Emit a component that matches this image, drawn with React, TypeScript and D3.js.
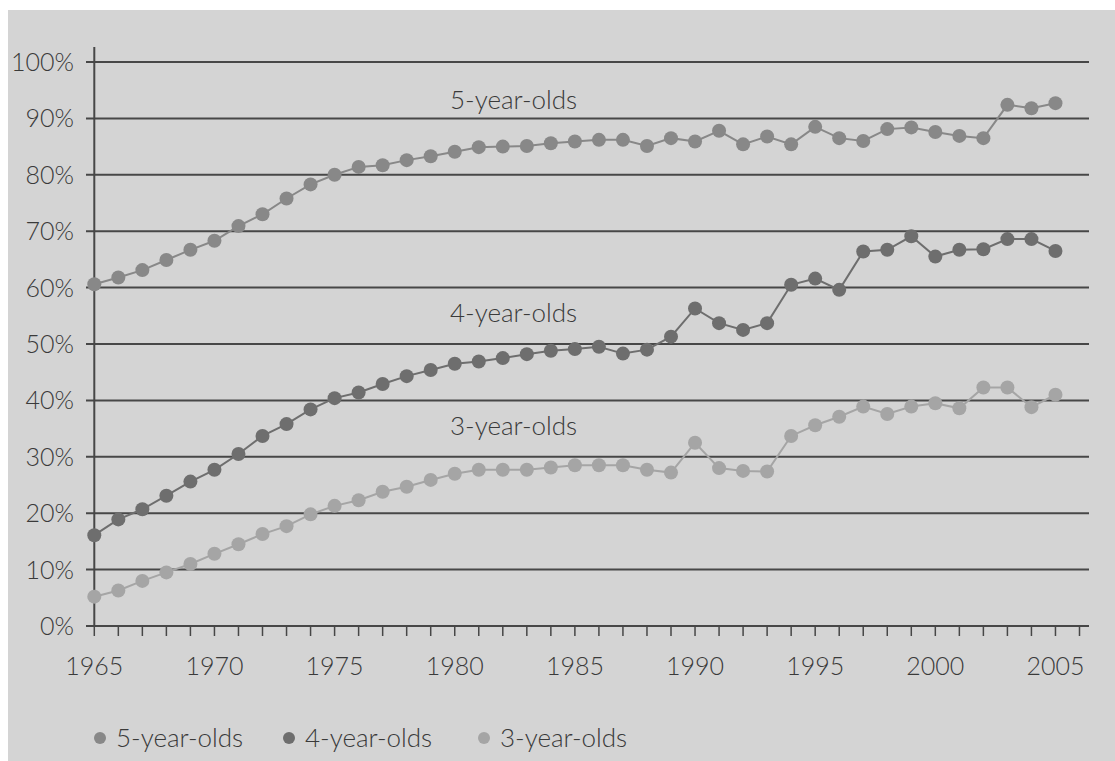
import * as d3 from "d3";

const YEARS = d3.range(1965, 2006);

const FIVE = [
  60.6, 61.8, 63.1, 64.9, 66.7, 68.3, 70.9, 73.0, 75.8, 78.3, 80.0, 81.4, 81.7, 82.6, 83.3, 84.1,
  84.9, 85.0, 85.1, 85.6, 85.9, 86.2, 86.2, 85.1, 86.5, 85.9, 87.8, 85.4, 86.8, 85.4, 88.5, 86.5,
  86.0, 88.1, 88.4, 87.6, 86.9, 86.5, 92.4, 91.8, 92.7,
];

const FOUR = [
  16.1, 18.9, 20.7, 23.1, 25.6, 27.7, 30.5, 33.7, 35.8, 38.4, 40.4, 41.4, 42.9, 44.3, 45.4, 46.5,
  46.9, 47.5, 48.2, 48.8, 49.1, 49.5, 48.3, 49.0, 51.3, 56.3, 53.7, 52.5, 53.7, 60.5, 61.6, 59.6,
  66.4, 66.7, 69.1, 65.5, 66.7, 66.8, 68.6, 68.6, 66.5,
];

const THREE = [
  5.2, 6.3, 8.0, 9.5, 11.0, 12.8, 14.5, 16.3, 17.7, 19.8, 21.3, 22.3, 23.8, 24.7, 25.9, 27.0,
  27.7, 27.7, 27.7, 28.1, 28.5, 28.5, 28.5, 27.7, 27.2, 32.5, 28.0, 27.5, 27.4, 33.7, 35.6, 37.1,
  38.9, 37.6, 38.9, 39.5, 38.6, 42.3, 42.3, 38.8, 41.0,
];

const SERIES = [
  { name: "5-year-olds", values: FIVE, color: "#888888", labelPct: 93.2 },
  { name: "4-year-olds", values: FOUR, color: "#6e6e6e", labelPct: 55.5 },
  { name: "3-year-olds", values: THREE, color: "#a5a5a5", labelPct: 35.4 },
];

const Y_TICKS = d3.range(0, 101, 10);
const X_LABELS = [1965, 1970, 1975, 1980, 1985, 1990, 1995, 2000, 2005];

const W = 1115;
const H = 761;
const FONT = "Lato, 'Open Sans', sans-serif";
const TEXT = "#3a3a3a";
const GRID = "#474747";

export default function App() {
  const x = d3.scaleLinear().domain([1965, 2006]).range([94.3, 1079.5]);
  const y = d3.scaleLinear().domain([0, 100]).range([626, 62]);
  const gridRight = 1089;

  const line = d3
    .line<number>()
    .x((_, i) => x(YEARS[i]))
    .y((d) => y(d));

  const tickYears = d3.range(1965, 2007);
  const legendX = [100, 289, 484];

  return (
    <div style={{ position: "absolute", left: 0, top: 0 }}>
      <svg width={W} height={H} style={{ display: "block", fontFamily: FONT }}>
        <rect x={0} y={0} width={W} height={H} fill="#ffffff" />
        <rect x={8} y={10} width={W - 8} height={H - 10} fill="#d4d4d4" />

        {/* horizontal gridlines with left ticks */}
        {Y_TICKS.map((t) => (
          <g key={t}>
            <line x1={86} x2={gridRight} y1={y(t)} y2={y(t)} stroke={GRID} strokeWidth={2} />
            <text
              x={74}
              y={y(t)}
              dy="0.36em"
              textAnchor="end"
              fontSize={25}
              fontWeight={300}
              fill={TEXT}
            >
              {t}%
            </text>
          </g>
        ))}

        {/* y axis */}
        <line x1={x(1965)} x2={x(1965)} y1={47} y2={y(0)} stroke={GRID} strokeWidth={2} />

        {/* x ticks */}
        {tickYears.map((yr) => (
          <line
            key={yr}
            x1={x(yr)}
            x2={x(yr)}
            y1={y(0)}
            y2={y(0) + 10}
            stroke={GRID}
            strokeWidth={1.5}
          />
        ))}
        {X_LABELS.map((yr) => (
          <text
            key={yr}
            x={x(yr)}
            y={675}
            textAnchor="middle"
            fontSize={25}
            fontWeight={300}
            fill={TEXT}
          >
            {yr}
          </text>
        ))}

        {/* series */}
        {SERIES.map((s) => (
          <g key={s.name}>
            <path d={line(s.values) ?? ""} fill="none" stroke={s.color} strokeWidth={2} />
            {s.values.map((v, i) => (
              <circle key={i} cx={x(YEARS[i])} cy={y(v)} r={7} fill={s.color} />
            ))}
            <text
              x={450}
              y={y(s.labelPct)}
              dy="0.35em"
              fontSize={26}
              fontWeight={300}
              fill={TEXT}
            >
              {s.name}
            </text>
          </g>
        ))}

        {/* legend */}
        {SERIES.map((s, i) => (
          <g key={s.name} transform={`translate(${legendX[i]},738)`}>
            <circle cx={0} cy={0} r={6} fill={s.color} />
            <text x={16} y={0} dy="0.35em" fontSize={26} fontWeight={300} fill={TEXT}>
              {s.name}
            </text>
          </g>
        ))}
      </svg>
    </div>
  );
}
